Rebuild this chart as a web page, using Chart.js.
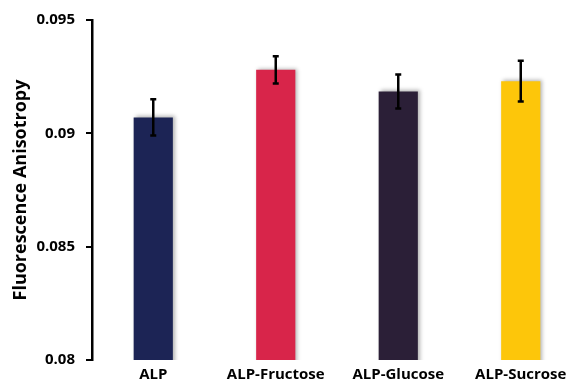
<!DOCTYPE html>
<html>
<head>
<meta charset="utf-8">
<script src="https://cdn.jsdelivr.net/npm/chart.js@4.4.0/dist/chart.umd.min.js"></script>
<style>
  html, body { margin: 0; padding: 0; background: #fff; overflow: hidden; }
  #wrap { width: 582px; height: 381px; }
</style>
</head>
<body>
<div id="wrap"><canvas id="myChart" width="582" height="381"></canvas></div>
<script>
// data
const categories = ['ALP', 'ALP-Fructose', 'ALP-Glucose', 'ALP-Sucrose'];
const anisotropy = [0.0907, 0.0928, 0.09185, 0.0923];
const errors = [0.0008, 0.0006, 0.00075, 0.0009];
const barColors = ['#1c2455', '#d8254a', '#2b1f37', '#fdc60a'];
const yTicks = [0.08, 0.085, 0.09, 0.095];

// soft shadow behind the bars
const barShadow = {
    id: 'barShadow',
    beforeDatasetDraw(chart) {
        const ctx = chart.ctx;
        ctx.save();
        ctx.shadowColor = 'rgba(0,0,0,0.3)';
        ctx.shadowBlur = 4;
        ctx.shadowOffsetX = 2;
        ctx.shadowOffsetY = -1;
    },
    afterDatasetDraw(chart) {
        chart.ctx.restore();
    }
};

// error bars, placed through the y scale
const errorBars = {
    id: 'errorBars',
    afterDatasetsDraw(chart) {
        const ctx = chart.ctx;
        const y = chart.scales.y;
        const meta = chart.getDatasetMeta(0);
        ctx.save();
        ctx.strokeStyle = '#000';
        ctx.lineWidth = 2.5;
        meta.data.forEach((bar, i) => {
            const top = y.getPixelForValue(anisotropy[i] + errors[i]);
            const bottom = y.getPixelForValue(anisotropy[i] - errors[i]);
            ctx.beginPath();
            ctx.moveTo(bar.x, top);
            ctx.lineTo(bar.x, bottom);
            ctx.moveTo(bar.x - 3, top);
            ctx.lineTo(bar.x + 3, top);
            ctx.moveTo(bar.x - 3, bottom);
            ctx.lineTo(bar.x + 3, bottom);
            ctx.stroke();
        });
        ctx.restore();
    }
};

const ctx = document.getElementById('myChart').getContext('2d');
const myChart = new Chart(ctx, {
    type: 'bar',
    data: {
        labels: categories,
        datasets: [{
            data: anisotropy,
            backgroundColor: barColors,
            borderWidth: 0,
            categoryPercentage: 1,
            barPercentage: 0.32
        }]
    },
    options: {
        responsive: false,
        animation: false,
        devicePixelRatio: 1,
        layout: { padding: { top: 12, right: 0, bottom: 0, left: 0 } },
        plugins: {
            legend: { display: false },
            tooltip: { enabled: false }
        },
        scales: {
            x: {
                grid: { display: false },
                border: { display: false },
                afterFit: scale => { scale.height = 21; },
                ticks: {
                    color: '#000',
                    padding: -1,
                    font: { family: 'Open Sans', size: 15, weight: 'bold', lineHeight: 1 }
                }
            },
            y: {
                min: 0.08,
                max: 0.095,
                afterBuildTicks: scale => {
                    scale.ticks = yTicks.map(v => ({ value: v }));
                },
                afterFit: scale => { scale.width = 92; },
                grid: {
                    drawOnChartArea: false,
                    color: '#000',
                    lineWidth: 2,
                    tickLength: 6
                },
                border: { color: '#000', width: 2.5 },
                ticks: {
                    color: '#000',
                    padding: 11,
                    font: { family: 'Open Sans', size: 15, weight: 'bold' },
                    callback: v => String(+v.toFixed(3))
                },
                title: {
                    display: true,
                    text: 'Fluorescence Anisotropy',
                    color: '#000',
                    padding: { top: 10, bottom: 0 },
                    font: { family: 'Open Sans', size: 18, weight: 'bold' }
                }
            }
        }
    },
    plugins: [barShadow, errorBars]
});
</script>
</body>
</html>
